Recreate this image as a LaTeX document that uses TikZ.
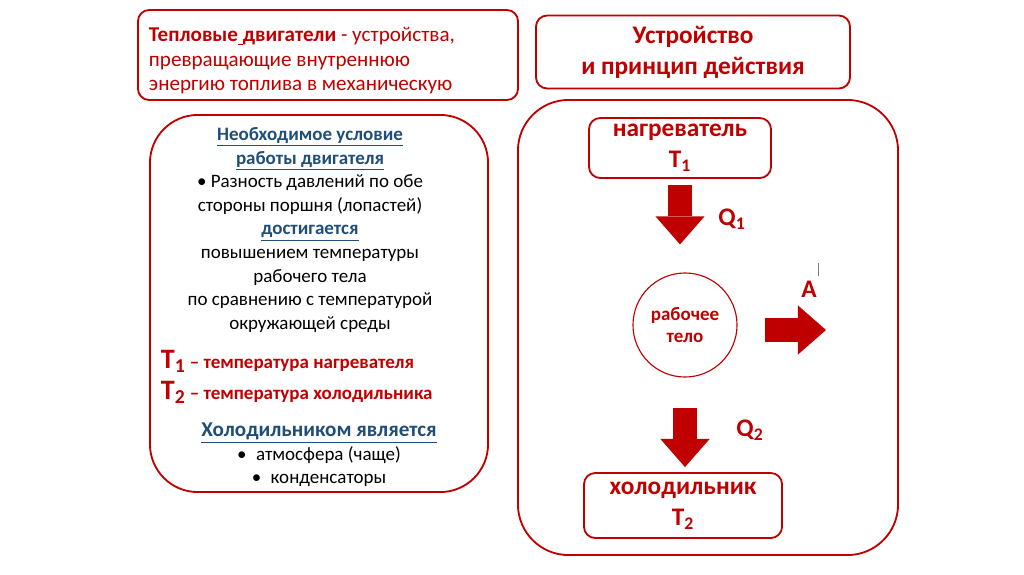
\documentclass[tikz,border=0pt]{standalone}
\usepackage{fontspec}
\setmainfont{Carlito}
\usepackage{xcolor}
\usetikzlibrary{arrows.meta,positioning,calc}
\definecolor{engred}{RGB}{192,0,0}
\definecolor{headblue}{RGB}{31,78,121}
\newcommand{\hdr}[1]{\textcolor{headblue}{\underline{#1}}}

\begin{document}
\begin{tikzpicture}[
  x=0.025cm, y=-0.025cm,
  box/.style={draw=engred, line width=1.3pt, rounded corners=8pt, align=center, inner sep=0pt},
  panel/.style={draw=engred, line width=1.3pt, rounded corners=34pt, inner sep=0pt},
  redtxt/.style={text=engred, font=\fontsize{18}{22}\selectfont\bfseries, align=center},
  bodytxt/.style={align=center, font=\fontsize{13.5}{16.8}\selectfont},
  fatarr/.style={draw=engred, line width=17pt, -{Triangle[length=20pt, width=35pt, line width=0pt]}}
]
  \useasboundingbox (0,0) rectangle (1024,574);

  % Definition
  \node[box, minimum width=9.5cm, minimum height=2.25cm] (defn) at (328,55) {};
  \node[anchor=west, align=left, text=engred, font=\fontsize{15}{17.4}\selectfont] (defntxt) at (144,61)
    {\textbf{Тепловые\underline{\ }двигатели} - устройства,\\превращающие внутреннюю\\энергию топлива в механическую};

  % Title
  \node[box, minimum width=7.85cm, minimum height=1.825cm, redtxt] (title) at (693,52)
    {Устройство\\и принцип действия};

  % Left panel
  \node[panel, minimum width=8.45cm, minimum height=9.425cm] (cond) at (319,303.5) {};
  \node[bodytxt] (condtxt) at (310,230)
    {\textbf{\hdr{Необходимое условие}}\\
     \textbf{\hdr{работы двигателя}}\\
     • Разность давлений по обе\\
     стороны поршня (лопастей)\\
     \textbf{\hdr{достигается}}\\
     повышением температуры\\
     рабочего тела\\
     по сравнению с температурой\\
     окружающей среды};
  \node[anchor=west, align=left, text=engred, font=\fontsize{13.5}{22}\selectfont\bfseries] (temps) at (156,377)
    {{\fontsize{20}{22}\selectfont T\textsubscript{1}} – температура нагревателя\\
     {\fontsize{20}{22}\selectfont T\textsubscript{2}} – температура холодильника};
  \node[bodytxt] (coolers) at (319,455)
    {{\fontsize{15}{17}\selectfont\bfseries\hdr{Холодильником является}}\\
     •\enspace атмосфера (чаще)\\
     •\enspace конденсаторы};

  % Right panel
  \node[panel, rounded corners=36pt, minimum width=9.5cm, minimum height=11.375cm] (scheme) at (708,327.5) {};
  \node[box, minimum width=4.55cm, minimum height=1.5cm, redtxt] (heater) at (680,148)
    {нагреватель\\T\textsubscript{1}};
  \node[circle, draw=engred, line width=0.8pt, minimum size=2.6cm, align=center,
        text=engred, font=\fontsize{13.5}{16}\selectfont\bfseries] (body) at (685,325)
    {рабочее\\тело};
  \node[box, minimum width=4.95cm, minimum height=1.625cm, redtxt] (cooler) at (683,505.5)
    {холодильник\\T\textsubscript{2}};
  \coordinate (workend) at (826,330);

  % Arrows
  \draw[fatarr, shorten <=0.15cm, shorten >=0.7cm] (heater.south) -- (heater.south |- body.north);
  \draw[fatarr, shorten <=0.75cm, shorten >=0.125cm] (body.south) -- (body.south |- cooler.north);
  \draw[fatarr, shorten <=0.675cm] (body.east |- workend) -- (workend);

  % Labels
  \node[redtxt] (qin) at (732,219) {Q\textsubscript{1}};
  \node[redtxt] (qout) at (750,430) {Q\textsubscript{2}};
  \node[redtxt] (work) at (809,289) {A};
  \draw[gray, line width=0.6pt] (818,263) -- (818,276);
\end{tikzpicture}
\end{document}
